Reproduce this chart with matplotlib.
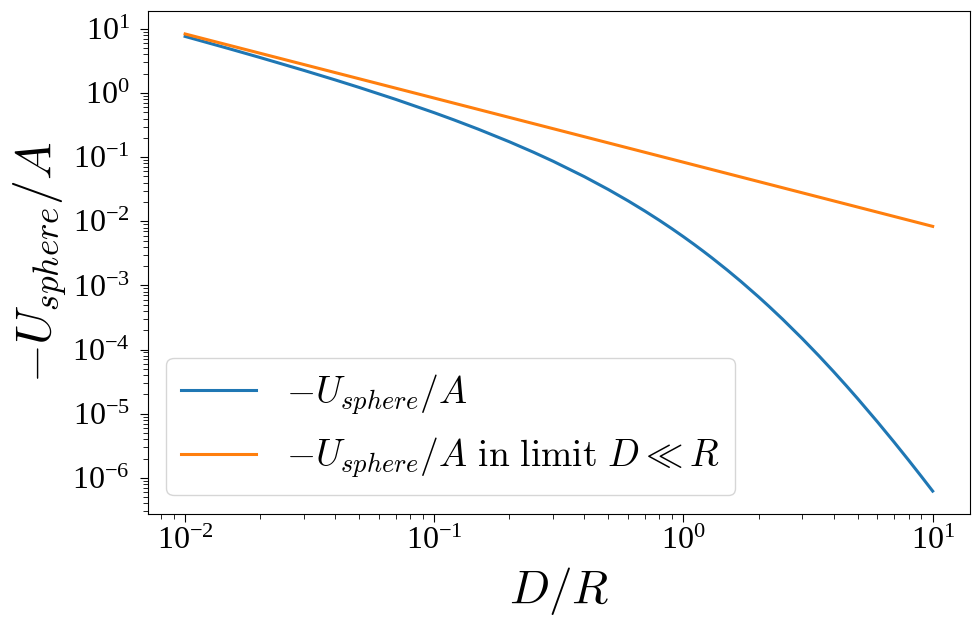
import numpy as np
import matplotlib
matplotlib.use("Agg")
import matplotlib.pyplot as plt
from matplotlib.ticker import LogLocator, NullFormatter
from matplotlib.font_manager import FontProperties

plt.rcParams["font.family"] = "serif"
plt.rcParams["font.serif"] = ["Liberation Serif", "DejaVu Serif"]
plt.rcParams["mathtext.fontset"] = "custom"
plt.rcParams["mathtext.rm"] = "Liberation Serif"
plt.rcParams["mathtext.it"] = "Liberation Serif:italic"
plt.rcParams["mathtext.fallback"] = "cm"
plt.rcParams["axes.unicode_minus"] = False

# sphere-sphere interaction, distance in units of R
d_over_r = [0.01, 0.015, 0.02, 0.03, 0.04, 0.05, 0.07, 0.1, 0.12, 0.15,
            0.2, 0.25, 0.3, 0.4, 0.5, 0.6, 0.7, 0.8, 0.9, 1.0, 1.1, 1.2,
            1.3, 1.5, 1.7, 2.0, 2.2, 2.5, 3.0, 3.5, 4.0, 4.5, 5.0, 6.0,
            7.0, 8.0, 9.0, 10.0]
u_sphere = [7.6263, 4.9151, 3.5731, 2.2498, 1.6014, 1.2200, 0.79601,
            0.49268, 0.38051, 0.27343, 0.17382, 0.11936, 0.086214,
            0.049660, 0.031206, 0.020784, 0.014439, 0.010361, 7.6300e-3,
            5.7393e-3, 4.3949e-3, 3.4173e-3, 2.6928e-3, 1.7295e-3,
            1.1532e-3, 6.6410e-4, 4.7398e-4, 2.9675e-4, 1.4745e-4,
            7.933e-5, 4.542e-5, 2.7345e-5, 1.7160e-5, 7.4687e-6,
            3.6086e-6, 1.8898e-6, 1.0553e-6, 6.21e-7]

# close-contact limit
d_limit = [0.01, 0.1, 1.0, 10.0]
u_limit = [8.333, 0.8333, 0.08333, 0.008333]

fig = plt.figure(figsize=(9.72, 6.17), dpi=100)
ax = fig.add_axes([0.152, 0.167, 0.846, 0.815])

ax.plot(d_over_r, u_sphere, lw=2.2, color="#1f77b4", label=r"$-U_{sphere}/A$")
ax.plot(d_limit, u_limit, lw=2.2, color="#ff7f0e",
        label=r"$-U_{sphere}/A\ \mathrm{in\ limit}\ D \ll R$")

ax.set_xscale("log")
ax.set_yscale("log")
for axis in (ax.xaxis, ax.yaxis):
    axis.set_major_locator(LogLocator(base=10, numticks=15))
    axis.set_minor_locator(LogLocator(base=10, subs=np.arange(2, 10), numticks=15))
    axis.set_minor_formatter(NullFormatter())

ax.set_xlabel(r"$D/R$", fontsize=34, math_fontfamily="cm", labelpad=6)
ax.set_ylabel(r"$-U_{sphere}/A$", fontsize=36, math_fontfamily="cm", labelpad=2)
ax.tick_params(labelsize=23)
ax.tick_params(which="major", length=6)
ax.tick_params(which="minor", length=3.5)
ax.tick_params(axis="y", which="major", pad=7)
ax.legend(loc="lower left", prop=FontProperties(size=27, math_fontfamily="cm"))

fig.savefig("out.png", dpi=100)
